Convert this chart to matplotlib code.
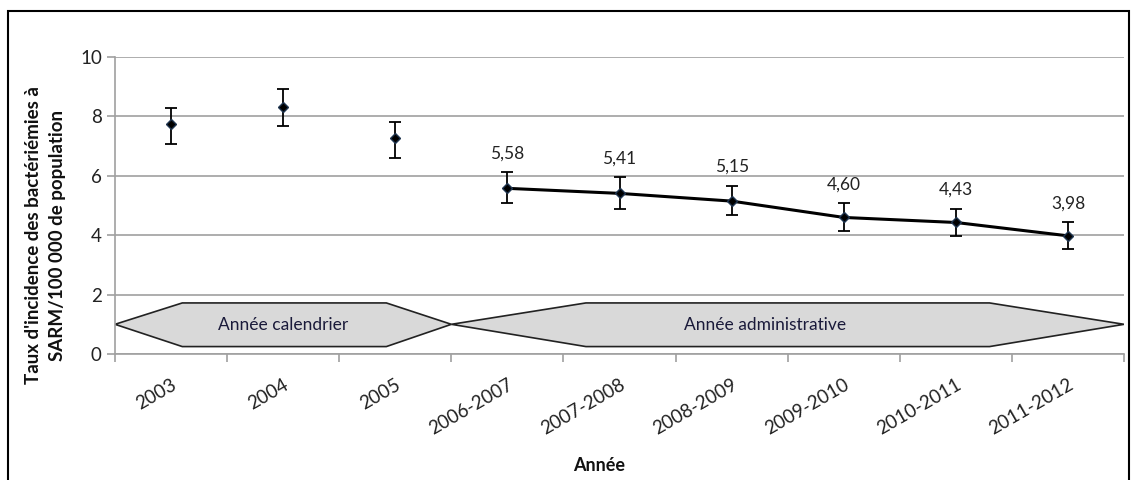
import matplotlib
matplotlib.use('Agg')
import matplotlib.pyplot as plt
from matplotlib.patches import Polygon, Rectangle
import numpy as np

plt.rcParams['font.family'] = ['Lato', 'DejaVu Sans']

annees = ['2003', '2004', '2005', '2006-2007', '2007-2008', '2008-2009',
          '2009-2010', '2010-2011', '2011-2012']
taux = [7.74, 8.32, 7.27, 5.58, 5.41, 5.15, 4.60, 4.43, 3.98]
ic_bas = [7.07, 7.67, 6.61, 5.09, 4.89, 4.67, 4.14, 3.96, 3.55]
ic_haut = [8.30, 8.94, 7.83, 6.12, 5.95, 5.66, 5.07, 4.88, 4.43]
etiquettes = ['', '', '', '5,58', '5,41', '5,15', '4,60', '4,43', '3,98']
debut_ligne = 3

x = np.arange(len(annees))
taux = np.array(taux)
err = [taux - np.array(ic_bas), np.array(ic_haut) - taux]

fig = plt.figure(figsize=(11.32, 4.80), dpi=100)
ax = fig.add_axes([0.1016, 0.2625, 0.8914, 0.6185])

# cadre autour du graphique
fig.patches.append(Rectangle((0.007, -0.01), 0.99, 0.988, transform=fig.transFigure,
                             fill=False, edgecolor='black', linewidth=1.5))

ax.set_xlim(-0.5, len(annees) - 0.5)
ax.set_ylim(0, 10)
ax.set_yticks(np.arange(0, 11, 2))
ax.yaxis.grid(True, color='#a0a0a0', linewidth=1.2)
ax.set_axisbelow(True)

# bandes "Année calendrier" / "Année administrative"
cal = Polygon([(-0.5, 1.0), (0.1, 1.72), (1.92, 1.72), (2.5, 1.0),
               (1.92, 0.25), (0.1, 0.25)], closed=True,
              facecolor='#d9d9d9', edgecolor='#222222', linewidth=1.2, zorder=2)
adm = Polygon([(2.5, 1.0), (3.7, 1.72), (7.3, 1.72), (8.5, 1.0),
               (7.3, 0.25), (3.7, 0.25)], closed=True,
              facecolor='#d9d9d9', edgecolor='#222222', linewidth=1.2, zorder=2)
ax.add_patch(cal)
ax.add_patch(adm)
ax.text(1.0, 0.98, 'Année calendrier', ha='center', va='center', fontsize=12.5,
        color='#1a1a3a', zorder=3)
ax.text(5.3, 0.98, 'Année administrative', ha='center', va='center', fontsize=12.5,
        color='#1a1a3a', zorder=3)

ax.errorbar(x, taux, yerr=err, fmt='none', ecolor='black', elinewidth=1.3,
            capsize=4, capthick=1.3, zorder=4)
ax.plot(x[debut_ligne:], taux[debut_ligne:], color='black', linewidth=2.2, zorder=4)
ax.plot(x, taux, linestyle='none', marker='D', markersize=5,
        color='black', markeredgecolor='#1f3550', zorder=5)

for xi, hi, lab in zip(x, ic_haut, etiquettes):
    if lab:
        ax.annotate(lab, xy=(xi, hi), xytext=(0, 8), textcoords='offset points',
                    ha='center', va='bottom', fontsize=12.5, color='#222222')

ax.set_xticks(x)
ax.set_xticklabels(annees, rotation=30, ha='right', rotation_mode='anchor',
                   fontsize=13.5, color='#222222')
ax.tick_params(axis='x', which='major', length=0, pad=16)
ax.set_xticks(np.arange(-0.5, len(annees)), minor=True)
ax.tick_params(axis='x', which='minor', length=6, color='#a0a0a0', width=1.2)
ax.tick_params(axis='y', length=6, color='#a0a0a0', width=1.2, labelsize=13.5,
               labelcolor='#222222')

for s in ['top', 'right']:
    ax.spines[s].set_visible(False)
for s in ['left', 'bottom']:
    ax.spines[s].set_color('#a0a0a0')
    ax.spines[s].set_linewidth(1.2)

ax.set_ylabel("Taux d'incidence des bactériémies à\nSARM/100 000 de population",
              fontsize=13.5, fontweight='bold', color='#111111',
              linespacing=1.5, va='center', ha='center')
ax.yaxis.set_label_coords(-0.069, 0.40)
ax.set_xlabel('Année', fontsize=13, fontweight='bold', color='#111111',
              va='center')
ax.xaxis.set_label_coords(0.48, -0.377)

fig.savefig('out.png', dpi=100)
